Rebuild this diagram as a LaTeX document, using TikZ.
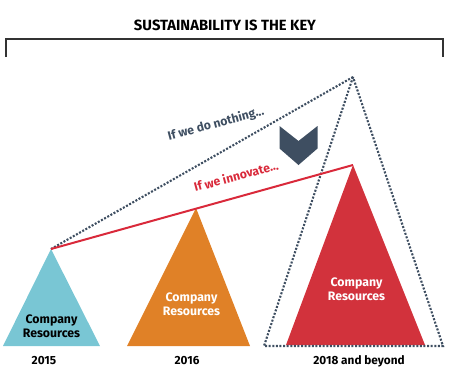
\documentclass[tikz,border=0pt]{standalone}
\usepackage{fontspec}
\setmainfont{Fira Sans}
\definecolor{slate}{HTML}{3E4E61}
\definecolor{tblue}{HTML}{79C6D4}
\definecolor{torange}{HTML}{E08127}
\definecolor{tred}{HTML}{D2323C}
\definecolor{lred}{HTML}{D9293A}
\begin{document}
\begin{tikzpicture}[x=1pt,y=-1pt,
		dots/.style={slate,line width=2.1pt,dash pattern=on 2pt off 1.6pt},
		res/.style={font=\bfseries\fontsize{12.3}{14}\selectfont,align=center},
		year/.style={font=\bfseries\fontsize{11.8}{13.5}\selectfont},
		slope/.style={font=\bfseries\fontsize{12.2}{14}\selectfont,rotate=15}]
	\useasboundingbox (0,0) rectangle (450,375);
	% title and bracket
	\node[font=\bfseries\fontsize{14.8}{16}\selectfont] (title) at (225,25) {SUSTAINABILITY IS THE KEY};
	\draw[line width=1.6pt,black!80] (6,57) -- (6,39) -- (443,39) -- (443,57);
	% apexes
	\coordinate (top15) at (51,249);
	\coordinate (top16) at (196,208);
	\coordinate (top18) at (353,165);
	\coordinate (peak) at (353,77);
	% triangles
	\fill[tblue] (top15) -- (3,346) -- (100,346) -- cycle;
	\fill[torange] (top16) -- (127,346) -- (250,346) -- cycle;
	\fill[tred] (top18) -- (286,345) -- (425,345) -- cycle;
	\draw[dots] (peak) -- (264,346) -- (443,346) -- cycle;
	% the two paths
	\draw[dots] (top15) -- (peak);
	\draw[lred,line width=2pt] (top15) -- (top18);
	% chevron
	\fill[slate] (279.5,126) -- (298.5,141) -- (317.5,126) -- (317.5,148.5) -- (298.5,165) -- (279.5,148.5) -- cycle;
	\node[slope,text=slate] (nothing) at (216,124) {If we do nothing...};
	\node[slope,text=lred] (innovate) at (236,176) {If we innovate...};
	% labels
	\node[res] (res15) at (51.5,326) {Company\\Resources};
	\node[res,text=white] (res16) at (191.5,304) {Company\\Resources};
	\node[res,text=white] (res18) at (356.5,289) {Company\\Resources};
	\node[year] (y15) at (44,361) {2015};
	\node[year] (y16) at (187,361) {2016};
	\node[year] (y18) at (359,361) {2018 and beyond};
\end{tikzpicture}
\end{document}
